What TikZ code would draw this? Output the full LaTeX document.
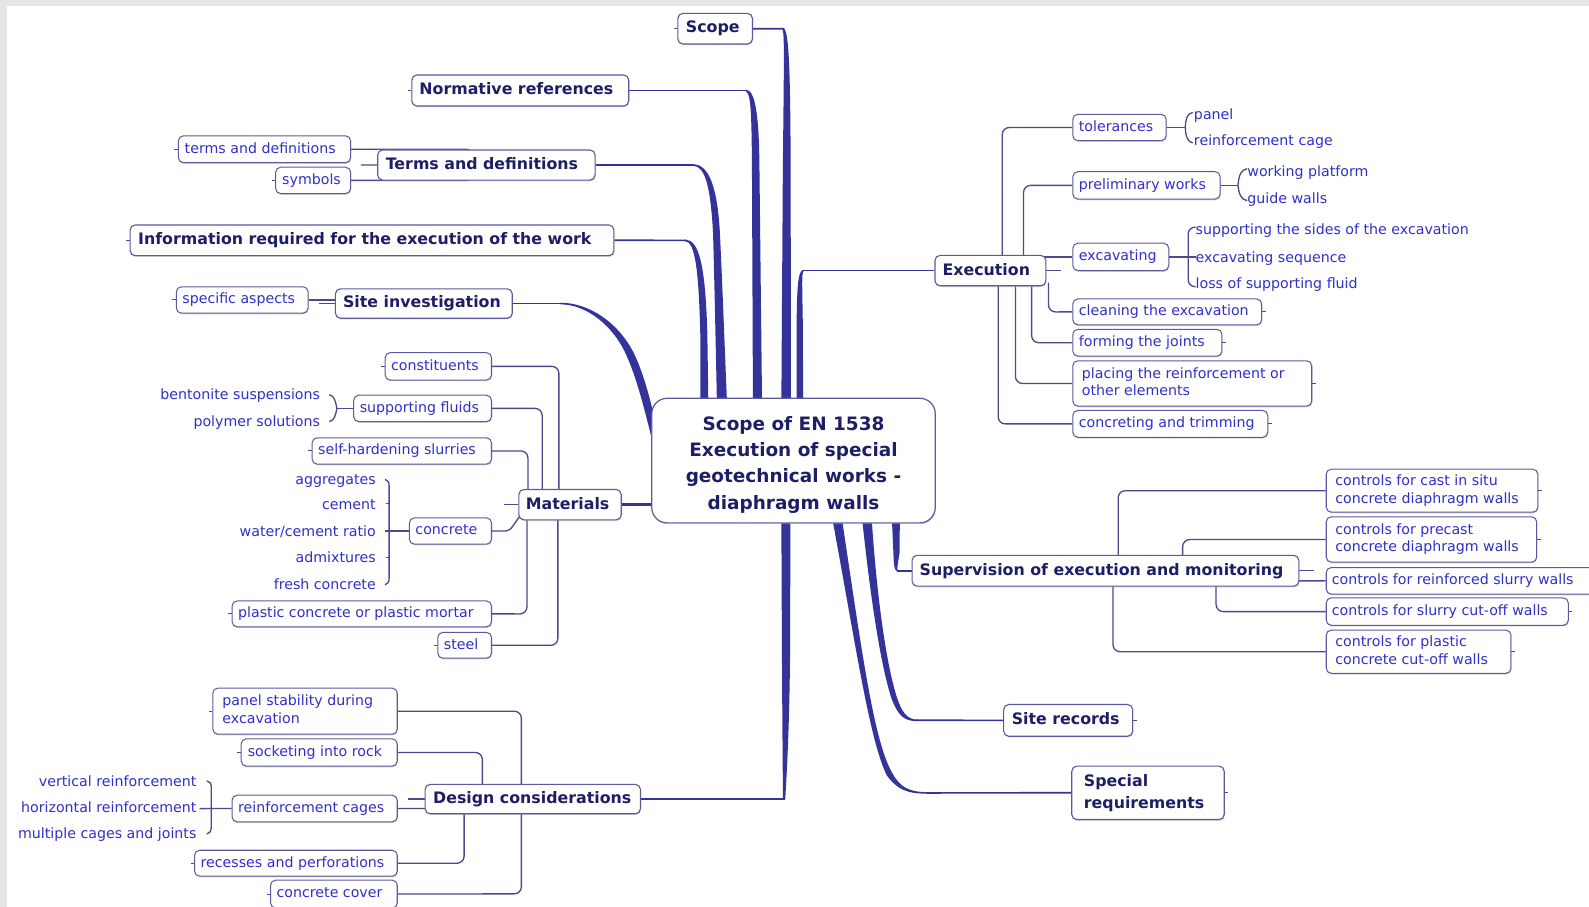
\documentclass[tikz,border=0pt]{standalone}
\usepackage{fontspec}
\setmainfont{DejaVu Sans}
\usetikzlibrary{shadows}

\definecolor{bggrey}{HTML}{E6E6E6}
\definecolor{branch}{HTML}{333399}
\definecolor{connc}{HTML}{4A4A8C}
\definecolor{boxline}{HTML}{5A5A9C}
\definecolor{topictext}{HTML}{1E1E66}
\definecolor{subtext}{HTML}{3030C8}

\pgfdeclarelayer{bg}
\pgfdeclarelayer{lines}
\pgfsetlayers{bg,lines,main}

% two left-aligned lines inside a box
\newcommand{\mmtwo}[2]{\begin{tabular}{@{}l@{}}#1\\#2\end{tabular}}
\newcommand{\mmstrut}{}
% box from its edges: style, name, x1, y1, x2, y2, left padding, text
\newcommand{\mmbox}[8]{%
  \pgfmathsetmacro{\mmw}{#5-(#3)}%
  \pgfmathsetmacro{\mmh}{#6-(#4)}%
  \node[#1, minimum width=\mmw pt, minimum height=\mmh pt] (#2)
    at ({(#3+#5)/2},{(#4+#6)/2})
    {\hbox to \mmw pt{\hspace*{#7pt}\mmstrut#8\hss}};}

\begin{document}
\begin{tikzpicture}[x=1pt,y=-1pt,
  boxshadow/.style={drop shadow={shadow xshift=0.6pt,shadow yshift=-1.2pt,fill=black!35,opacity=0.5}},
  topicbox/.style={draw=boxline, line width=1.1pt, fill=white, rounded corners=5pt,
    inner sep=0pt, text=topictext, boxshadow,
    font=\bfseries\fontsize{15.6}{21.4}\selectfont\def\mmstrut{\rule[-3pt]{0pt}{14.2pt}}},
  subbox/.style={draw=boxline, line width=1pt, fill=white, rounded corners=5pt,
    inner sep=0pt, text=subtext, boxshadow,
    font=\fontsize{14}{17.5}\selectfont\def\mmstrut{\rule[-3pt]{0pt}{12.3pt}}},
  rootbox/.style={draw=boxline, line width=1.2pt, fill=white, rounded corners=15pt,
    inner sep=0pt, boxshadow},
  roottext/.style={inner sep=0pt, align=center, text=topictext,
    font=\bfseries\fontsize{18.2}{26}\selectfont},
  leaf/.style={inner sep=0pt, text=subtext, font=\fontsize{14}{17.5}\selectfont,
    text height=12pt, text depth=1pt},
  conn/.style={draw=connc, line width=1.3pt},
  elbow/.style={conn, rounded corners=7pt},
  branchthin/.style={draw=branch, line width=1.7pt}]

\useasboundingbox (0,0) rectangle (1568,895);
\begin{pgfonlayer}{bg}
  \fill[bggrey] (0,0) rectangle (1568,895);
  \fill[white] (7,6) rectangle (1568,895);
\end{pgfonlayer}

% ---------- central topic ----------
\node[rootbox, minimum width=279.6pt, minimum height=122.9pt] (root) at (783,454.5) {};
\node[roottext] (roottitle) at (783,458.5)
  {Scope of EN 1538\\Execution of special\\geotechnical works -\\diaphragm walls};

% ---------- main topics ----------
\mmbox{topicbox}{scope}{668.9}{13.2}{742.5}{43.4}{8}{Scope}
\mmbox{topicbox}{normref}{406.4}{74}{620.4}{104.6}{7.5}{Normative references}
\mmbox{topicbox}{terms}{372.7}{148}{587.2}{177.7}{8}{Terms and definitions}
\mmbox{topicbox}{info}{128.4}{222}{605.8}{252.3}{8}{Information required for the execution of the work}
\mmbox{topicbox}{siteinv}{331}{285}{505.5}{314}{7.5}{Site investigation}
\mmbox{topicbox}{materials}{512}{483}{613}{513}{7}{Materials}
\mmbox{topicbox}{design}{419.5}{774}{632}{803}{8}{Design considerations}
\mmbox{topicbox}{execution}{922.6}{252}{1032}{282}{7.5}{Execution}
\mmbox{topicbox}{supervision}{900}{548}{1281.7}{578.4}{7.5}{Supervision of execution and monitoring}
\mmbox{topicbox}{siterec}{990.4}{695.2}{1117.7}{726.5}{8}{Site records}
\mmbox{topicbox}{special}{1057.6}{756}{1208}{808.7}{12}{\mmtwo{Special}{requirements}}

% ---------- subtopics, left side ----------
\mmbox{subbox}{tdef}{176}{134}{346}{160.5}{6.3}{terms and definitions}
\mmbox{subbox}{symbols}{272}{165}{346}{191}{6.5}{symbols}
\mmbox{subbox}{specasp}{174}{283}{304}{309}{6}{specific aspects}
\mmbox{subbox}{constituents}{380}{348}{485}{375}{6}{constituents}
\mmbox{subbox}{suppfluids}{349}{390}{485}{416}{6}{supporting fluids}
\mmbox{subbox}{selfhard}{308}{432}{485}{458}{6}{self-hardening slurries}
\mmbox{subbox}{concrete}{404}{511}{485}{537}{6}{concrete}
\mmbox{subbox}{plastic}{229}{593}{485}{618.5}{6}{plastic concrete or plastic mortar}
\mmbox{subbox}{steel}{432}{624}{485}{649.5}{6}{steel}
\mmbox{subbox}{panelstab}{210}{679}{392}{724.5}{9.5}{\mmtwo{panel stability during}{excavation}}
\mmbox{subbox}{socket}{238}{729}{392}{756}{6.5}{socketing into rock}
\mmbox{subbox}{reinfcages}{229}{784.7}{392}{811}{6}{reinforcement cages}
\mmbox{subbox}{recesses}{192}{839}{392}{864.6}{6}{recesses and perforations}
\mmbox{subbox}{cover}{267}{868.5}{392}{896}{6}{concrete cover}

% ---------- subtopics, right side ----------
\mmbox{subbox}{tolerances}{1058.6}{112.8}{1150.8}{138.8}{6}{tolerances}
\mmbox{subbox}{prelim}{1058.6}{169.4}{1204}{196.4}{6}{preliminary works}
\mmbox{subbox}{excavating}{1058.6}{240}{1153.3}{267}{6}{excavating}
\mmbox{subbox}{cleaning}{1058.6}{295}{1245}{320.5}{6}{cleaning the excavation}
\mmbox{subbox}{forming}{1058.6}{325}{1205.8}{351.4}{6}{forming the joints}
\mmbox{subbox}{placing}{1058.6}{356}{1294.4}{400.7}{9}{\mmtwo{placing the reinforcement or}{other elements}}
\mmbox{subbox}{concreting}{1058.6}{405}{1251}{431.5}{6}{concreting and trimming}
\mmbox{subbox}{cast}{1308.7}{463}{1517.5}{505.4}{9}{\mmtwo{controls for cast in situ}{concrete diaphragm walls}}
\mmbox{subbox}{precast}{1308.7}{510}{1516.4}{554.7}{9}{\mmtwo{controls for precast}{concrete diaphragm walls}}
\mmbox{subbox}{reinfslurry}{1308.7}{560}{1590}{586.3}{5.5}{controls for reinforced slurry walls}
\mmbox{subbox}{slurrycut}{1308.7}{590}{1547.6}{617}{5.5}{controls for slurry cut-off walls}
\mmbox{subbox}{plasticcut}{1308.7}{621.8}{1491}{664.4}{9}{\mmtwo{controls for plastic}{concrete cut-off walls}}

% ---------- plain leaf texts ----------
\node[leaf, anchor=east] (bent) at (316,389) {bentonite suspensions};
\node[leaf, anchor=east] (poly) at (316,415.5) {polymer solutions};
\node[leaf, anchor=east] (aggr) at (371,473) {aggregates};
\node[leaf, anchor=east] (cem) at (371,497) {cement};
\node[leaf, anchor=east] (wcr) at (371,523.5) {water/cement ratio};
\node[leaf, anchor=east] (admx) at (371,550) {admixtures};
\node[leaf, anchor=east] (fresh) at (371,576) {fresh concrete};
\node[leaf, anchor=east] (vreinf) at (194,770.5) {vertical reinforcement};
\node[leaf, anchor=east] (hreinf) at (194,796) {horizontal reinforcement};
\node[leaf, anchor=east] (multi) at (194,822) {multiple cages and joints};
\node[leaf, anchor=west] (panel) at (1178,112.8) {panel};
\node[leaf, anchor=west] (rcage) at (1178,138.2) {reinforcement cage};
\node[leaf, anchor=west] (wplat) at (1230.7,168.8) {working platform};
\node[leaf, anchor=west] (gwall) at (1230.7,195) {guide walls};
\node[leaf, anchor=west] (sides) at (1179.7,226.3) {supporting the sides of the excavation};
\node[leaf, anchor=west] (seq) at (1179.7,253.3) {excavating sequence};
\node[leaf, anchor=west] (loss) at (1179.7,279) {loss of supporting fluid};

% ---------- connectors ----------
\begin{pgfonlayer}{lines}
  % tapered main branches
  \fill[branch] (771,400) -- (772.5,164.5) .. controls (773.6,60) and (774.2,31) .. (772,29.1)
    -- (772,27.5) .. controls (777.5,27.5) and (779.8,45) .. (780.2,164.5) -- (780.5,400) -- cycle;
  \draw[branchthin] (scope.east) -- (774,28.3);
  \fill[branch] (743,400) -- (742,164.5) .. controls (741.6,110) and (740.8,92) .. (736,90.1)
    -- (736,88.5) .. controls (745.5,88.5) and (749,115) .. (749.4,164.5) -- (752,400) -- cycle;
  \draw[branchthin] (normref.east) -- (737,89.3);
  \fill[branch] (684,162.1) .. controls (700,162.1) and (708,186) .. (710.4,230)
    .. controls (712.8,280) and (715,340) .. (717.5,400) -- (707.5,400)
    .. controls (706,330) and (704.8,270) .. (703.6,230)
    .. controls (701,181) and (695,163.7) .. (684,163.7) -- cycle;
  \draw[branchthin] (terms.east) -- (685,162.9);
  \fill[branch] (676,236.4) .. controls (690,236.4) and (696,262) .. (698,329) -- (699,400)
    -- (691,400) -- (691,329) .. controls (689.5,268) and (686,238) .. (676,238) -- cycle;
  \draw[branchthin] (info.east) -- (677,237.2);
  \fill[branch] (553,298.7) .. controls (581,298.7) and (610,318) .. (625.5,348.5)
    .. controls (636,371) and (642,394) .. (652,440) -- (645,440)
    .. controls (634,396) and (628,373) .. (618.5,351.5)
    .. controls (606,322) and (579,300.3) .. (553,300.3) -- cycle;
  \draw[branchthin] (siteinv.east) -- (554,299.5);
  \draw[branch, line width=2.4pt] (materials.east) -- (652,498);
  \fill[branch] (786,400) -- (786,330) .. controls (786.3,285) and (787,266.2) .. (793,266.2)
    -- (793,267.8) .. controls (790.6,267.8) and (792,290) .. (792.3,330) -- (792.5,400) -- cycle;
  \draw[branchthin] (792,267) -- (execution.west);
  \fill[branch] (771,510) -- (771.6,645) .. controls (772,720) and (772.5,770) .. (772.6,789.3)
    -- (774.8,789.3) .. controls (776,770) and (779,720) .. (779.6,645) -- (780,510) -- cycle;
  \draw[branchthin] (design.east) -- (774,788.5);
  \fill[branch] (880,510) -- (881.6,546) .. controls (882,556) and (882.2,564) .. (886,564)
    -- (886,562.4) .. controls (884.8,562.4) and (886,556) .. (887.6,546) -- (888,510) -- cycle;
  \draw[branchthin] (885,563.2) -- (supervision.west);
  \fill[branch] (850.5,510) .. controls (860,600) and (870,660) .. (880,690)
    .. controls (886,705) and (891,711.6) .. (905,711.6) -- (905,710)
    .. controls (895,710) and (890,703) .. (885,688)
    .. controls (876,660) and (866,600) .. (860,510) -- cycle;
  \draw[branchthin] (904,710.8) -- (siterec.west);
  \fill[branch] (821,510) .. controls (845,640) and (858,730) .. (875,765)
    .. controls (885,779) and (895,783.2) .. (915,783.2) -- (915,781.6)
    .. controls (897,781.6) and (888,777) .. (880,762)
    .. controls (862,730) and (850,640) .. (830.5,510) -- cycle;
  \draw[branchthin] (914,782.4) -- (special.west);

  % terms and definitions
  \draw[conn, rounded corners=5pt] (tdef.east) -- (466,147.3) -- (466,160);
  \draw[conn, rounded corners=5pt] (symbols.east) -- (466,178) -- (466,166);
  \draw[conn] (356,162.9) -- (terms.west);
  % site investigation
  \draw[conn] (specasp.east) -- (340,296);
  \draw[conn] (315,299.5) -- (siteinv.west);
  % materials
  \draw[conn] (497,498) -- (materials.west);
  \draw[elbow] (constituents.east) -- (551.5,361.5) -- (551.5,498);
  \draw[elbow] (suppfluids.east) -- (535,403) -- (535,498);
  \draw[elbow] (selfhard.east) -- (521,445) -- (521,498);
  \draw[conn] (concrete.east) -- (499,524) .. controls (505,524) and (507,516) .. (515,507);
  \draw[elbow] (plastic.east) -- (520,605.8) -- (520,498);
  \draw[elbow] (steel.east) -- (550.5,636.8) -- (550.5,498);
  % design considerations
  \draw[conn] (403,788.5) -- (design.west);
  \draw[elbow] (panelstab.east) -- (514.5,701.8) -- (514.5,788);
  \draw[elbow] (socket.east) -- (476,742.5) -- (476,788);
  \draw[conn] (reinfcages.east) -- (430,797.9);
  \draw[elbow] (recesses.east) -- (458,851.8) -- (458,788);
  \draw[elbow] (cover.east) -- (514.5,882) -- (514.5,788);
  % execution
  \draw[elbow] (tolerances.west) -- (989,125.8) -- (989,267);
  \draw[elbow] (prelim.west) -- (1010,182.9) -- (1010,267);
  \draw[conn] (excavating.west) -- (1028,253.5);
  \draw[conn] (execution.east) -- (1047,267);
  \draw[elbow] (1034.6,279) -- (1034.6,307.8) -- (cleaning.west);
  \draw[elbow] (1018,267) -- (1018,338.2) -- (forming.west);
  \draw[elbow] (1002,267) -- (1002,378.4) -- (placing.west);
  \draw[elbow] (985,267) -- (985,418.3) -- (concreting.west);
  % supervision
  \draw[elbow] (cast.west) -- (1103.4,484.2) -- (1103.4,563);
  \draw[elbow] (precast.west) -- (1167,532.4) -- (1167,563);
  \draw[conn] (reinfslurry.west) -- (1278,573.2);
  \draw[conn] (supervision.east) -- (1297,563.2);
  \draw[elbow] (slurrycut.west) -- (1200,603.5) -- (1200,563);
  \draw[elbow] (plasticcut.west) -- (1098.3,643.1) -- (1098.3,563);
\end{pgfonlayer}

% ---------- braces to the plain leaf texts ----------
\draw[conn] (325,389.5) .. controls (330,390.5) and (331,396) .. (332.5,403)
  .. controls (331,410) and (330,415) .. (325,416);
\draw[conn] (332.5,403) -- (suppfluids.west);
\draw[conn] (380,473) .. controls (383,473.5) and (384,476) .. (384,480) -- (384,570)
  .. controls (384,574) and (383,576.5) .. (380,577);
\draw[conn] (381,497) -- (384,497);
\draw[conn] (381,550) -- (384,550);
\draw[conn] (379.5,524) -- (concrete.west);
\draw[conn] (204,770.5) .. controls (207,771) and (208.5,773) .. (208.5,777) -- (208.5,816)
  .. controls (208.5,820) and (207,822.5) .. (204,823);
\draw[conn] (197,797.9) -- (reinfcages.west);
\draw[conn] (1177,111) .. controls (1172,112) and (1170,116) .. (1169.6,125.8)
  .. controls (1170,135) and (1172,140) .. (1177,141);
\draw[conn] (tolerances.east) -- (1169.6,125.8);
\draw[conn] (1230.7,166.5) .. controls (1225,167.5) and (1222.5,172) .. (1221.6,182.9)
  .. controls (1222.5,192) and (1225,197) .. (1230.7,198);
\draw[conn] (prelim.east) -- (1221.6,182.9);
\draw[conn] (1179.8,224) .. controls (1175,224.5) and (1172.5,227) .. (1172.5,231) -- (1172.5,276)
  .. controls (1172.5,280) and (1175,282.5) .. (1179.8,283);
\draw[conn] (excavating.east) -- (1179.8,253.5);

% ---------- small end marks on leaf boxes ----------
\foreach \n in {scope,normref,info,tdef,symbols,specasp,constituents,selfhard,plastic,steel,panelstab,socket,recesses,cover}
  \draw[conn, line width=1pt] (\n.west) -- ++(-3.5,0);
\foreach \n in {cleaning,forming,placing,concreting,cast,precast,slurrycut,plasticcut,siterec,special}
  \draw[conn, line width=1pt] (\n.east) -- ++(3.5,0);

\end{tikzpicture}
\end{document}
